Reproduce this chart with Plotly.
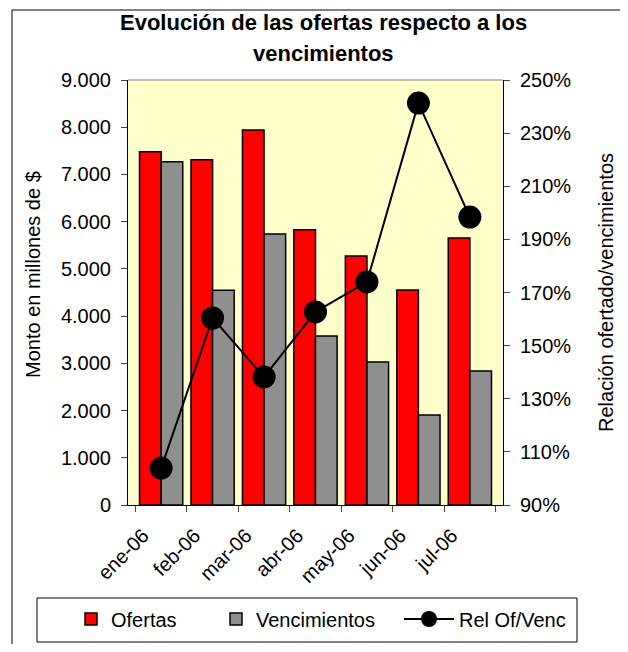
import plotly.graph_objects as go

months = ["ene-06", "feb-06", "mar-06", "abr-06", "may-06", "jun-06", "jul-06"]
ofertas = [7480, 7310, 7940, 5830, 5275, 4555, 5655]
vencimientos = [7270, 4550, 5740, 3580, 3030, 1905, 2840]
rel = [103.9, 160.4, 138.2, 162.7, 174.0, 241.3, 198.4]

left_ticks = [0, 1000, 2000, 3000, 4000, 5000, 6000, 7000, 8000, 9000]
right_ticks = [90, 110, 130, 150, 170, 190, 210, 230, 250]
right_labels = [f"{v}%" for v in right_ticks]

# page offset (default body margin of the html page)
O = 8
W, H = 620, 636
# plot area in window pixels
PX0, PX1, PY0, PY1 = 128, 503, 80, 505
ML, MT = PX0 - O, PY0 - O
pw, ph = PX1 - PX0, PY1 - PY0
MR, MB = W - ML - pw, H - MT - ph

def wx(px):  # window x -> paper
    return (px - PX0) / pw

def wy(py):  # window y -> paper
    return (PY1 - py) / ph

def cx(px):  # window x -> container
    return (px - O) / W

def cy(py):  # window y -> container
    return 1 - (py - O) / H

font = "Liberation Sans, Arial, sans-serif"
FS = 20

fig = go.Figure()
fig.add_trace(go.Bar(
    x=months, y=ofertas, name="Ofertas", legend="legend",
    marker=dict(color="#FF0000", line=dict(color="black", width=1.5)),
))
fig.add_trace(go.Bar(
    x=months, y=vencimientos, name="Vencimientos", legend="legend2",
    marker=dict(color="#FFFFFF", line=dict(color="black", width=1.5),
                pattern=dict(shape=".", fgcolor="#000000", bgcolor="#FFFFFF",
                             size=2, solidity=0.5, fillmode="replace")),
))
fig.add_trace(go.Scatter(
    x=months, y=rel, name="Rel Of/Venc", yaxis="y2", mode="lines+markers",
    legend="legend3",
    line=dict(color="black", width=2),
    marker=dict(color="black", size=23),
))

leg_common = dict(xref="container", yref="container", xanchor="left",
                  yanchor="middle", y=cy(619), bgcolor="rgba(0,0,0,0)",
                  borderwidth=0, font=dict(family=font, size=FS))

fig.update_layout(
    width=W, height=H,
    margin=dict(l=ML, r=MR, t=MT, b=MB, autoexpand=False),
    paper_bgcolor="white",
    plot_bgcolor="#FFFFCC",
    separators=",.",
    font=dict(family=font, size=FS, color="black"),
    barmode="group", bargap=0.16, bargroupgap=0.0,
    showlegend=True,
    legend=dict(x=cx(71), itemwidth=30, **leg_common),
    legend2=dict(x=cx(216), itemwidth=30, **leg_common),
    legend3=dict(x=cx(399), itemwidth=50, **leg_common),
    xaxis=dict(type="category", tickangle=-45, ticks="outside", ticklen=6,
               tickson="boundaries", showline=True, linecolor="black", linewidth=1,
               showgrid=False, tickfont=dict(size=FS), automargin=False,
               ticklabelshift=-18, ticklabelstandoff=10),
    yaxis=dict(range=[0, 9000], tickvals=left_ticks, tickformat=",.0f",
               ticks="outside", ticklen=6, showline=True, linecolor="black",
               linewidth=1, showgrid=False, zeroline=False, automargin=False,
               ticklabelstandoff=6, tickfont=dict(size=FS)),
    yaxis2=dict(range=[90, 250], tickvals=right_ticks, ticktext=right_labels,
                overlaying="y", side="right", ticks="outside", ticklen=6,
                showline=True, linecolor="black", linewidth=1, showgrid=False,
                zeroline=False, automargin=False, ticklabelstandoff=6,
                tickfont=dict(size=FS)),
)

# title
fig.add_annotation(text="<b>Evolución de las ofertas respecto a los</b>",
                   xref="paper", yref="paper", x=wx(323), y=wy(22),
                   showarrow=False, font=dict(size=22), xanchor="center", yanchor="middle")
fig.add_annotation(text="<b>vencimientos</b>",
                   xref="paper", yref="paper", x=wx(323), y=wy(53),
                   showarrow=False, font=dict(size=22), xanchor="center", yanchor="middle")
# axis titles
fig.add_annotation(text="Monto en millones de $", textangle=-90,
                   xref="paper", yref="paper", x=wx(33), y=wy(274),
                   showarrow=False, font=dict(size=FS), xanchor="center", yanchor="middle")
fig.add_annotation(text="Relación ofertado/vencimientos", textangle=-90,
                   xref="paper", yref="paper", x=wx(606), y=wy(293),
                   showarrow=False, font=dict(size=FS), xanchor="center", yanchor="middle")

# gray top border of plot area
fig.add_shape(type="line", xref="paper", yref="paper", x0=0, x1=1, y0=1, y1=1,
              line=dict(color="#808080", width=1))
# legend box
fig.add_shape(type="rect", xref="paper", yref="paper",
              x0=wx(37), x1=wx(577), y0=wy(642), y1=wy(598),
              line=dict(color="black", width=1), fillcolor="white", layer="below")
# outer chart border
fig.add_shape(type="rect", xref="paper", yref="paper",
              x0=wx(12), x1=wx(624), y0=wy(680), y1=wy(10),
              line=dict(color="black", width=1), fillcolor="rgba(0,0,0,0)",
              layer="below")

fig.write_html("out.html")
